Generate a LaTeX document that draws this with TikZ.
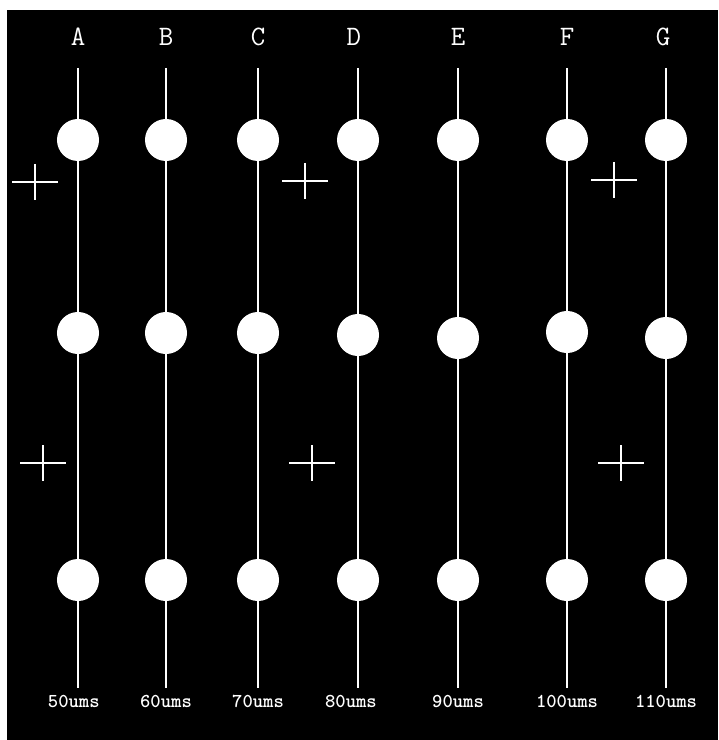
\documentclass[tikz,border=0pt]{standalone}
\usepackage{tikz}
\usetikzlibrary{positioning,calc}

\begin{document}
\begin{tikzpicture}[x=0.025cm, y=-0.025cm]
  \tikzstyle{dot} = [circle, fill=white, inner sep=0pt, minimum size=1.05cm]
  \tikzstyle{wire} = [draw=white, line width=2pt]
  \tikzstyle{tag} = [text=white, font=\fontsize{20}{20}\selectfont\ttfamily, inner sep=0pt, text height=12pt, text depth=0pt]
  \tikzstyle{speed} = [text=white, font=\fontsize{14}{14}\selectfont\ttfamily\bfseries, inner sep=0pt, text height=9pt, text depth=0pt]
  \tikzstyle{crossmark} = [draw=white, line width=1.8pt]

  % frame
  \fill [white] (0,0) rectangle (718,740);
  \fill [black] (7,10) rectangle (718,740);
  \useasboundingbox (0,0) rectangle (718,740);

  % column ends
  \coordinate (tA) at (78,68);  \coordinate (bA) at (78,688);
  \coordinate (tB) at (166,68); \coordinate (bB) at (166,688);
  \coordinate (tC) at (258,68); \coordinate (bC) at (258,688);
  \coordinate (tD) at (358,68); \coordinate (bD) at (358,688);
  \coordinate (tE) at (458,68); \coordinate (bE) at (458,688);
  \coordinate (tF) at (567,68); \coordinate (bF) at (567,688);
  \coordinate (tG) at (666,68); \coordinate (bG) at (666,688);

  \draw [wire] (tA) -- (bA);
  \draw [wire] (tB) -- (bB);
  \draw [wire] (tC) -- (bC);
  \draw [wire] (tD) -- (bD);
  \draw [wire] (tE) -- (bE);
  \draw [wire] (tF) -- (bF);
  \draw [wire] (tG) -- (bG);

  % letters
  \node [tag, above=16pt of tA] (labA) {A};
  \node [tag, above=16pt of tB] (labB) {B};
  \node [tag, above=16pt of tC] (labC) {C};
  \node [tag, above=16pt of tD, xshift=-3pt] (labD) {D};
  \node [tag, above=16pt of tE] (labE) {E};
  \node [tag, above=16pt of tF] (labF) {F};
  \node [tag, above=16pt of tG, xshift=-2pt] (labG) {G};

  % speeds
  \node [speed, below=5pt of bA, xshift=-3pt] (vA) {50ums};
  \node [speed, below=5pt of bB] (vB) {60ums};
  \node [speed, below=5pt of bC] (vC) {70ums};
  \node [speed, below=5pt of bD, xshift=-5pt] (vD) {80ums};
  \node [speed, below=5pt of bE] (vE) {90ums};
  \node [speed, below=5pt of bF] (vF) {100ums};
  \node [speed, below=5pt of bG] (vG) {110ums};

  % beads
  \node [dot] (a1) at (78,140) {};
  \node [dot] (a2) at (78,333) {};
  \node [dot] (a3) at (78,580) {};
  \node [dot] (b1) at (166,140) {};
  \node [dot] (b2) at (166,333) {};
  \node [dot] (b3) at (166,580) {};
  \node [dot] (c1) at (258,140) {};
  \node [dot] (c2) at (258,333) {};
  \node [dot] (c3) at (258,580) {};
  \node [dot] (d1) at (358,140) {};
  \node [dot] (d2) at (358,335) {};
  \node [dot] (d3) at (358,580) {};
  \node [dot] (e1) at (458,140) {};
  \node [dot] (e2) at (458,338) {};
  \node [dot] (e3) at (458,580) {};
  \node [dot] (f1) at (567,140) {};
  \node [dot] (f2) at (567,332) {};
  \node [dot] (f3) at (567,580) {};
  \node [dot] (g1) at (666,140) {};
  \node [dot] (g2) at (666,338) {};
  \node [dot] (g3) at (666,580) {};

  % crosses
  \coordinate (x1) at (35,182);
  \coordinate (x2) at (43,463);
  \coordinate (x3) at (305,181);
  \coordinate (x4) at (312,463);
  \coordinate (x5) at (614,180);
  \coordinate (x6) at (621,463);
  \draw [crossmark] ($(x1)+(-23,0)$) -- ($(x1)+(23,0)$) ($(x1)+(0,-18)$) -- ($(x1)+(0,18)$);
  \draw [crossmark] ($(x2)+(-23,0)$) -- ($(x2)+(23,0)$) ($(x2)+(0,-18)$) -- ($(x2)+(0,18)$);
  \draw [crossmark] ($(x3)+(-23,0)$) -- ($(x3)+(23,0)$) ($(x3)+(0,-18)$) -- ($(x3)+(0,18)$);
  \draw [crossmark] ($(x4)+(-23,0)$) -- ($(x4)+(23,0)$) ($(x4)+(0,-18)$) -- ($(x4)+(0,18)$);
  \draw [crossmark] ($(x5)+(-23,0)$) -- ($(x5)+(23,0)$) ($(x5)+(0,-18)$) -- ($(x5)+(0,18)$);
  \draw [crossmark] ($(x6)+(-23,0)$) -- ($(x6)+(23,0)$) ($(x6)+(0,-18)$) -- ($(x6)+(0,18)$);
\end{tikzpicture}
\end{document}
